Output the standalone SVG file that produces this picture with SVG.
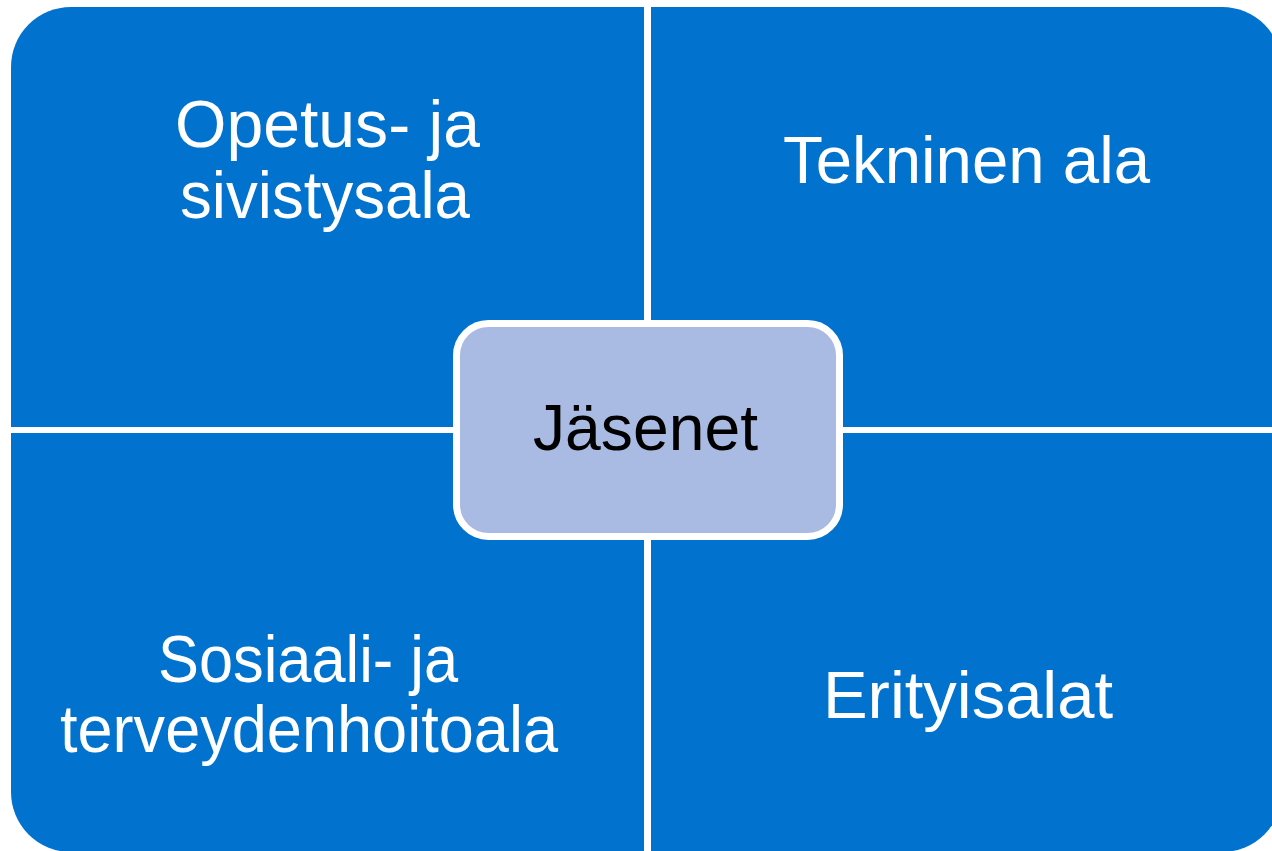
<svg xmlns="http://www.w3.org/2000/svg" width="1272" height="851" viewBox="0 0 1272 851">
<style>
.q{fill:#0172CE}
.t{font-family:"Liberation Sans",Arial,sans-serif;font-size:66px;fill:#FFFFFF;text-anchor:middle}
.c{font-family:"Liberation Sans",Arial,sans-serif;font-size:64px;fill:#000000;text-anchor:middle}
</style>
<rect width="1272" height="851" fill="#FFFFFF"/>
<g id="q-opetus">
<path class="q" d="M11,427 V67 A60,60 0 0 1 71,7 H644 V427 Z"/>
<text class="t" x="327.5" y="147" textLength="305" lengthAdjust="spacingAndGlyphs">Opetus- ja</text>
<text class="t" x="325" y="218" textLength="290" lengthAdjust="spacingAndGlyphs">sivistysala</text>
</g>
<g id="q-tekninen">
<path class="q" d="M651,7 H1222 A60,60 0 0 1 1282,67 V427 H651 Z"/>
<text class="t" x="966.5" y="183" textLength="367" lengthAdjust="spacingAndGlyphs">Tekninen ala</text>
</g>
<g id="q-sosiaali">
<path class="q" d="M11,433 H644 V852 H71 A60,60 0 0 1 11,792 Z"/>
<text class="t" x="308" y="682" textLength="300" lengthAdjust="spacingAndGlyphs">Sosiaali- ja</text>
<text class="t" x="309" y="752" textLength="498" lengthAdjust="spacingAndGlyphs">terveydenhoitoala</text>
</g>
<g id="q-erityisalat">
<path class="q" d="M651,433 H1282 V792 A60,60 0 0 1 1222,852 H651 Z"/>
<text class="t" x="968" y="718" textLength="290" lengthAdjust="spacingAndGlyphs">Erityisalat</text>
</g>
<g id="connectors"></g>
<g id="center-jasenet">
<rect x="456.5" y="323.5" width="383" height="213" rx="32" ry="32" fill="#AABBE3" stroke="#FFFFFF" stroke-width="7"/>
<text class="c" x="645.5" y="450" textLength="225" lengthAdjust="spacingAndGlyphs">Jäsenet</text>
</g>
</svg>
